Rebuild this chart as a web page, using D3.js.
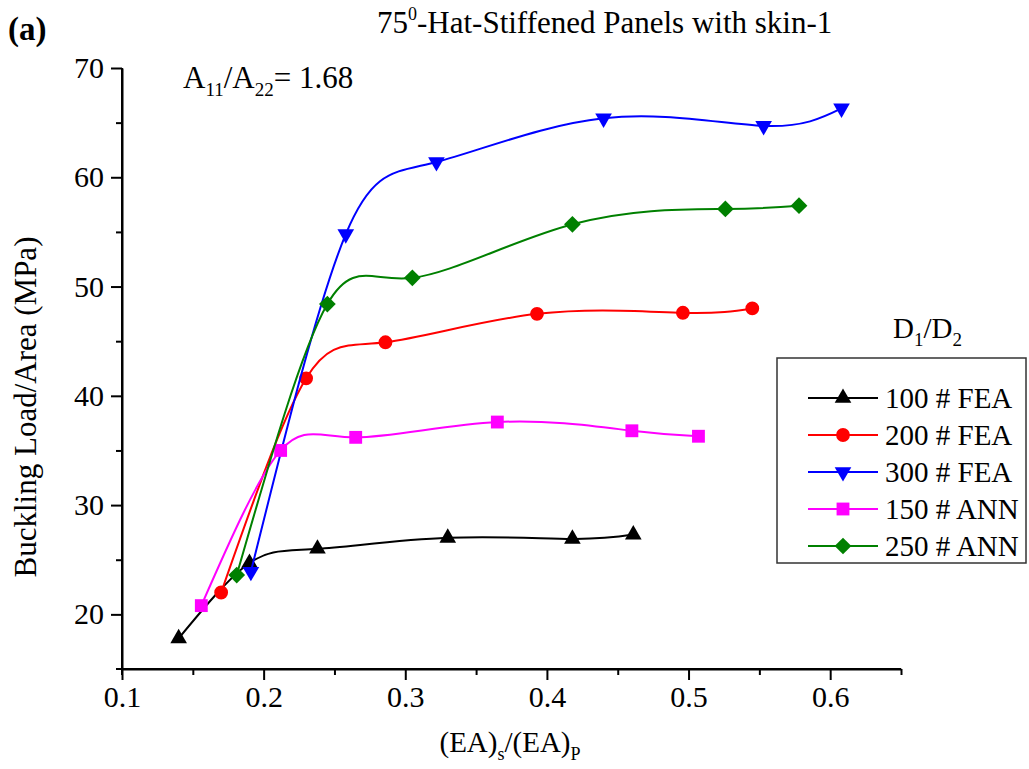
<!DOCTYPE html>
<meta charset="utf-8">
<style>
html, body {
  margin: 0;
  background: #fff;
}

.chart {
  display: block;
  font-family: "Liberation Serif", "Times New Roman", serif;
}

.chart .axis path,
.chart .axis line {
  stroke: #000;
  stroke-width: 2;
}

.chart .axis text {
  font-family: "Liberation Serif", "Times New Roman", serif;
  font-size: 30px;
  fill: #000;
}

.chart .series {
  fill: none;
  stroke-width: 2;
}
</style>
<body>
<svg class="chart" width="1029" height="769"></svg>

<script src="https://d3js.org/d3.v7.min.js"></script>
<script type="text/javascript">
"use strict";

// tick values
var xTicks = [0.1, 0.2, 0.3, 0.4, 0.5, 0.6],
  xMinor = [0.15, 0.25, 0.35, 0.45, 0.55, 0.65],
  yTicks = [20, 30, 40, 50, 60, 70],
  yMinor = [25, 35, 45, 55, 65];

// series values: (EA)s/(EA)p vs buckling load/area
var fea100X = [0.140, 0.190, 0.238, 0.330, 0.418, 0.461],
  fea100Y = [17.8, 24.7, 26.0, 27.0, 26.9, 27.3];
var fea200X = [0.170, 0.230, 0.286, 0.393, 0.496, 0.545],
  fea200Y = [22.0, 41.6, 44.9, 47.5, 47.6, 48.0];
var fea300X = [0.191, 0.258, 0.322, 0.440, 0.553, 0.608],
  fea300Y = [23.9, 54.8, 61.4, 65.4, 64.7, 66.3];
var ann150X = [0.156, 0.212, 0.265, 0.365, 0.460, 0.507],
  ann150Y = [20.8, 35.0, 36.2, 37.6, 36.8, 36.3];
var ann250X = [0.181, 0.245, 0.305, 0.418, 0.526, 0.578],
  ann250Y = [23.6, 48.4, 50.8, 55.7, 57.1, 57.4];

var seriesNames = ["100 # FEA", "200 # FEA", "300 # FEA", "150 # ANN", "250 # ANN"];

var series = [
  { name: seriesNames[0], xs: fea100X, ys: fea100Y, color: "#000000", marker: "up" },
  { name: seriesNames[1], xs: fea200X, ys: fea200Y, color: "#ff0000", marker: "circle" },
  { name: seriesNames[2], xs: fea300X, ys: fea300Y, color: "#0000ff", marker: "down" },
  { name: seriesNames[3], xs: ann150X, ys: ann150Y, color: "#ff00ff", marker: "square" },
  { name: seriesNames[4], xs: ann250X, ys: ann250Y, color: "#008000", marker: "diamond" }
];

var serif = "'Liberation Serif', 'Times New Roman', serif";
var svg = d3.select(".chart");

var x = d3.scaleLinear().domain([0.1, 0.65]).range([122, 901]),
  y = d3.scaleLinear().domain([15, 70]).range([669, 68]);

// axes: major + minor ticks, bottom and left only
svg.append("g")
  .attr("class", "axis")
  .attr("transform", "translate(0," + y(15) + ")")
  .call(d3.axisBottom(x).tickValues(xTicks).tickSize(11).tickSizeOuter(0)
    .tickFormat(d3.format(".1f")).tickPadding(6))
  .attr("font-family", serif).attr("font-size", 30);

svg.append("g")
  .attr("class", "axis")
  .attr("transform", "translate(0," + y(15) + ")")
  .call(d3.axisBottom(x).tickValues(xMinor).tickSize(6).tickSizeOuter(0).tickFormat(""))
  .select(".domain").attr("d", "M116,0H" + x(0.65));

svg.append("g")
  .attr("class", "axis")
  .attr("transform", "translate(" + x(0.1) + ",0)")
  .call(d3.axisLeft(y).tickValues(yTicks).tickSize(11).tickSizeOuter(0).tickPadding(7))
  .attr("font-family", serif).attr("font-size", 30);

svg.append("g")
  .attr("class", "axis")
  .attr("transform", "translate(" + x(0.1) + ",0)")
  .call(d3.axisLeft(y).tickValues(yMinor).tickSize(6).tickSizeOuter(0).tickFormat(""))
  .select(".domain").attr("d", "M0," + y(70) + "V" + (y(15) + 6));

function markerPath(type) {
  switch (type) {
  case "up":
  case "down":
    return d3.symbol().type(d3.symbolTriangle).size(120)();
  case "circle":
    return d3.symbol().type(d3.symbolCircle).size(150)();
  case "square":
    return d3.symbol().type(d3.symbolSquare).size(165)();
  case "diamond":
    return d3.symbol().type(d3.symbolSquare).size(140)();
  }
}

function markerRotate(type) {
  if (type === "down") return " rotate(180)";
  if (type === "diamond") return " rotate(45)";
  return "";
}

var line = d3.line()
  .x(function(d) { return x(d[0]); })
  .y(function(d) { return y(d[1]); })
  .curve(d3.curveNatural);

series.forEach(function(s) {
  var pts = s.xs.map(function(v, i) { return [v, s.ys[i]]; });
  var g = svg.append("g");
  g.append("path")
    .attr("class", "series")
    .attr("stroke", s.color)
    .attr("d", line(pts));
  g.selectAll(".mark")
    .data(pts)
    .enter().append("path")
    .attr("class", "mark")
    .attr("fill", s.color)
    .attr("d", markerPath(s.marker))
    .attr("transform", function(d) {
      return "translate(" + x(d[0]) + "," + y(d[1]) + ")" + markerRotate(s.marker);
    });
});

// legend
var legend = svg.append("g");
legend.append("rect")
  .attr("x", 777).attr("y", 358)
  .attr("width", 249).attr("height", 205)
  .attr("fill", "#fff").attr("stroke", "#333").attr("stroke-width", 1.5);

var lt = legend.append("text")
  .attr("x", 893).attr("y", 338)
  .attr("font-size", 29);
lt.append("tspan").text("D");
lt.append("tspan").attr("font-size", 19).attr("dy", 8).text("1");
lt.append("tspan").attr("dy", -8).text("/D");
lt.append("tspan").attr("font-size", 19).attr("dy", 8).text("2");

series.forEach(function(s, i) {
  var ly = 398 + i * 37;
  var row = legend.append("g");
  row.append("line")
    .attr("x1", 808).attr("x2", 878)
    .attr("y1", ly).attr("y2", ly)
    .attr("stroke", s.color).attr("stroke-width", 2);
  row.append("path")
    .attr("fill", s.color)
    .attr("d", markerPath(s.marker))
    .attr("transform", "translate(843," + ly + ")" + markerRotate(s.marker));
  row.append("text")
    .attr("x", 885).attr("y", ly + 10)
    .attr("font-size", 29)
    .text(s.name);
});

// titles
svg.append("text")
  .attr("x", 8).attr("y", 40)
  .attr("font-size", 33).attr("font-weight", "bold")
  .text("(a)");

var title = svg.append("text")
  .attr("x", 377).attr("y", 33)
  .attr("font-size", 31);
title.append("tspan").text("75");
title.append("tspan").attr("font-size", 18).attr("dy", -13).text("0");
title.append("tspan").attr("dy", 13).text("-Hat-Stiffened Panels with skin-1");

var ann = svg.append("text")
  .attr("x", 183).attr("y", 88)
  .attr("font-size", 31);
ann.append("tspan").text("A");
ann.append("tspan").attr("font-size", 19).attr("dy", 8).text("11");
ann.append("tspan").attr("dy", -8).text("/A");
ann.append("tspan").attr("font-size", 19).attr("dy", 8).text("22");
ann.append("tspan").attr("dy", -8).text("= 1.68");

var xt = svg.append("text")
  .attr("x", 510).attr("y", 752)
  .attr("text-anchor", "middle")
  .attr("font-size", 29);
xt.append("tspan").text("(EA)");
xt.append("tspan").attr("font-size", 18).attr("dy", 8).text("s");
xt.append("tspan").attr("dy", -8).text("/(EA)");
xt.append("tspan").attr("font-size", 18).attr("dy", 8).text("P");

svg.append("text")
  .attr("transform", "translate(36,407) rotate(-90)")
  .attr("text-anchor", "middle")
  .attr("font-size", 31)
  .text("Buckling Load/Area (MPa)");
</script>
</body>
